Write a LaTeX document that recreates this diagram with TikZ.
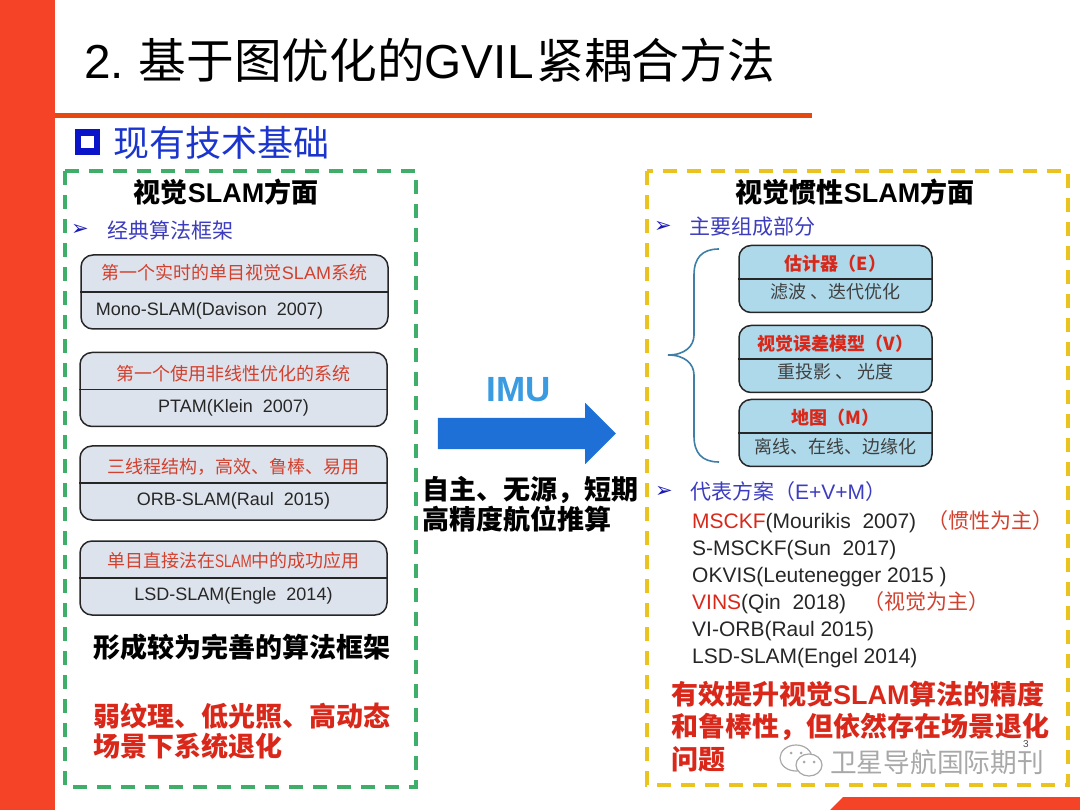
\documentclass[tikz,border=0pt]{standalone}
\usepackage{xcolor}
\usepackage{fontspec}
\setmainfont{Liberation Sans}
\newfontfamily\cjk{Noto Sans CJK SC}
\newfontfamily\symfont{DejaVu Sans}
\usetikzlibrary{positioning, shapes.arrows}

\definecolor{bandred}{HTML}{F44327}
\definecolor{ruleorange}{HTML}{E5490F}
\definecolor{headblue}{HTML}{1B35CC}
\definecolor{markblue}{HTML}{0A14C8}
\definecolor{tipblue}{HTML}{1A1AB4}
\definecolor{boxgreen}{HTML}{3FAE68}
\definecolor{boxyellow}{HTML}{EBC31E}
\definecolor{capgray}{HTML}{DDE3EC}
\definecolor{capblue}{HTML}{ADD9EA}
\definecolor{alertred}{HTML}{D9281A}
\definecolor{softred}{HTML}{D2402E}
\definecolor{arrowblue}{HTML}{1E6FD6}
\definecolor{imublue}{HTML}{3A9BE0}
\definecolor{bracecol}{HTML}{3F7FA6}
\definecolor{markgray}{HTML}{A8A8A8}

\newcommand{\fs}[1]{\fontsize{#1}{#1}\selectfont}
\newcommand{\zh}[1]{{\cjk #1}}

% name, style, x, y, upper text, lower text, upper options, lower options
\newcommand{\capsule}[8]{
    \node (#1) [#2] at (#3,#4) {};
    \draw [line width = 1.5pt, black!85] (#1.west) -- (#1.east);
    \path (#1.center) -- (#1.north) node [midway, uppertext, #7] {#5};
    \path (#1.center) -- (#1.south) node [midway, lowertext, #8] {#6};
}

\tikzset{
    dashbox/.style = {line width = 3.2pt, dash pattern = on 14pt off 10pt},
    capsule base/.style = {draw = black!85, line width = 1.5pt, rounded corners = 12pt, inner sep = 0pt},
    leftcap/.style = {capsule base, fill = capgray, minimum width = 307pt, minimum height = 74pt},
    rightcap/.style = {capsule base, fill = capblue, minimum width = 193pt, minimum height = 67pt},
    uppertext/.style = {text = softred, font = \fs{18}},
    lowertext/.style = {text = black!85, font = \fs{18}},
    sidehead/.style = {font = \fs{27}\bfseries, text = black},
    tipmark/.style = {font = \symfont\bfseries\fs{21}, text = tipblue},
    tiptext/.style = {anchor = west, font = \fs{21}, text = tipblue!85!white},
    strong/.style = {anchor = west, font = \fs{27}\bfseries, text = black},
    alert/.style = {strong, text = alertred},
    entry/.style = {anchor = west, font = \fs{21}, text = black!85, inner sep = 0pt,
        text height = 15pt, text depth = 4pt}
}

\begin{document}
\begin{tikzpicture} [x = 1pt, y = -1pt, node distance = 30pt, on grid]

    \useasboundingbox (0,0) rectangle (1080,810);

    % page furniture
    \fill [bandred] (0,0) rectangle (55,810);
    \fill [ruleorange] (55,113) rectangle (812,118);
    \fill [bandred] (830,810) -- (843,797) -- (1080,797) -- (1080,810) -- cycle;

    \node (title) [anchor = west, inner sep = 0pt, font = \fs{47.7}] at (84,60) {2.\hspace{-3pt} \zh{基于图优化的}GVIL\hspace{3pt}\zh{紧耦合方法}};
    \node (basis mark) [draw = markblue, line width = 6.5pt, minimum size = 19pt, inner sep = 0pt] at (87.5,142) {};
    \node (basis) [anchor = west, font = \cjk\fs{36}, text = headblue, inner sep = 0pt] at (113,143) {现有技术基础};

    % left panel
    \draw [dashbox, boxgreen] (65,171) rectangle (416,787);
    \node (vslam) [sidehead] at (226,192) {\zh{视觉}SLAM\zh{方面}};
    \node (vslam mark) [tipmark] at (80,230) {➢};
    \node (vslam tip) [tiptext, inner sep = 0pt] at (107,230) {\zh{经典算法框架}};

    \capsule{mono}{leftcap}{234.5}{292}{\zh{第一个实时的单目视觉}SLAM\zh{系统}}{Mono-SLAM(Davison~~2007)}{}{xshift = -25pt}
    \capsule{ptam}{leftcap}{233.5}{389.5}{\zh{第一个使用非线性优化的系统}}{PTAM(Klein~~2007)}{yshift = -3pt}{yshift = 1pt}
    \capsule{orb}{leftcap}{233.5}{483}{\zh{三线程结构，高效、鲁棒、易用}}{ORB-SLAM(Raul~~2015)}{yshift = -3pt}{yshift = 1.5pt}
    \capsule{lsd}{leftcap}{233.5}{578}{\zh{单目直接法在}\scalebox{.75}[1]{SLAM}\zh{中的成功应用}}{LSD-SLAM(Engle~~2014)}{yshift = -2pt}{yshift = 1.5pt}

    \node (framework) [strong, inner sep = 0pt] at (93,647) {\cjk 形成较为完善的算法框架};
    \node (weak one) [alert, inner sep = 0pt] at (93,716) {\cjk 弱纹理、低光照、高动态};
    \node (weak two) [alert, inner sep = 0pt, below = 30pt of weak one.west, anchor = west] {\cjk 场景下系统退化};

    % middle arrow
    \node (imu) [font = \fs{35}\bfseries, text = imublue, inner sep = 0pt] at (519,390) {IMU};
    \node (fusion) [single arrow, fill = arrowblue, inner sep = 0pt, minimum height = 178pt,
        single arrow head extend = 15pt, single arrow tip angle = 90] at (519,433.5) {\rule{0pt}{31pt}};
    \node (self one) [strong, inner sep = 0pt] at (422,490) {\cjk 自主、无源，短期};
    \node (self two) [strong, inner sep = 0pt, below = 29pt of self one.west, anchor = west] {\cjk 高精度航位推算};

    % right panel
    \draw [dashbox, boxyellow] (647,171) rectangle (1068,785);
    \node (vio) [sidehead] at (855,192) {\zh{视觉惯性}SLAM\zh{方面}};
    \node (vio mark) [tipmark] at (663,227) {➢};
    \node (vio tip) [tiptext, inner sep = 0pt] at (689,227) {\zh{主要组成部分}};

    \tikzset{uppertext/.append style = {text = alertred, font = \cjk\fs{18}\bfseries},
        lowertext/.append style = {yshift = 4pt, text = black!75}}
    \capsule{estimator}{rightcap}{835.5}{279}{估计器（E）}{\zh{滤波 、迭代优化}}{yshift = -2pt}{}
    \capsule{visual}{rightcap}{835.5}{359}{视觉误差模型（V）}{\zh{重投影 、 光度}}{yshift = -2pt}{}
    \capsule{map}{rightcap}{835.5}{433}{地图（M）}{\zh{离线、在线、边缘化}}{yshift = -2pt}{}

    \coordinate (brace top) at (719,249);
    \coordinate (brace tip) at (668,355);
    \coordinate (brace end) at (719,462);
    \draw [bracecol, line width = 1.6pt] (brace top) .. controls (702,249) and (694,258) .. (694,275)
        -- (694,335) .. controls (694,346) and (685,355) .. (brace tip)
        .. controls (685,355) and (694,364) .. (694,375)
        -- (694,436) .. controls (694,453) and (702,462) .. (brace end);

    \node (scheme mark) [tipmark] at (664,492) {➢};
    \node (scheme tip) [tiptext, inner sep = 0pt] at (690,492) {\zh{代表方案（}E+V+M\zh{）}};

    \node (msckf) [entry] at (692,522.5) {\textcolor{alertred}{MSCKF}(Mourikis~~2007) ~\textcolor{softred}{\zh{（惯性为主）}}};
    \node (smsckf) [entry, below = 27pt of msckf.west, anchor = west] {S-MSCKF(Sun~~2017)};
    \node (okvis) [entry, below = 27pt of smsckf.west, anchor = west] {OKVIS(Leutenegger 2015 )};
    \node (vins) [entry, below = 27pt of okvis.west, anchor = west] {\textcolor{alertred}{VINS}(Qin~~2018) ~~\textcolor{softred}{\zh{（视觉为主）}}};
    \node (viorb) [entry, below = 27pt of vins.west, anchor = west] {VI-ORB(Raul 2015)};
    \node (lsdvi) [entry, below = 27pt of viorb.west, anchor = west] {LSD-SLAM(Engel 2014)};

    \node (gain one) [alert, inner sep = 0pt] at (671,694) {\zh{有效提升视觉}SLAM\zh{算法的精度}};
    \node (gain two) [alert, inner sep = 0pt, below = 33pt of gain one.west, anchor = west] {\cjk 和鲁棒性，但依然存在场景退化};
    \node (gain three) [alert, inner sep = 0pt, below = 32pt of gain two.west, anchor = west] {\cjk 问题};

    % watermark
    \node (page) [font = \fs{10}, text = black!70, inner sep = 0pt] at (1026,744) {3};
    \draw [markgray, line width = 1.2pt] (796,758) ellipse [x radius = 16pt, y radius = 13pt];
    \draw [markgray, line width = 1.2pt, fill = white] (809,765) ellipse [x radius = 13pt, y radius = 11pt];
    \fill [markgray] (791,753) circle [radius = 1.5pt] (801,753) circle [radius = 1.5pt];
    \fill [markgray] (804,762) circle [radius = 1.5pt] (814,762) circle [radius = 1.5pt];
    \node (journal) [anchor = west, inner sep = 0pt, font = \cjk\fs{26.7}, text = markgray] at (830,762) {卫星导航国际期刊};

\end{tikzpicture}
\end{document}
